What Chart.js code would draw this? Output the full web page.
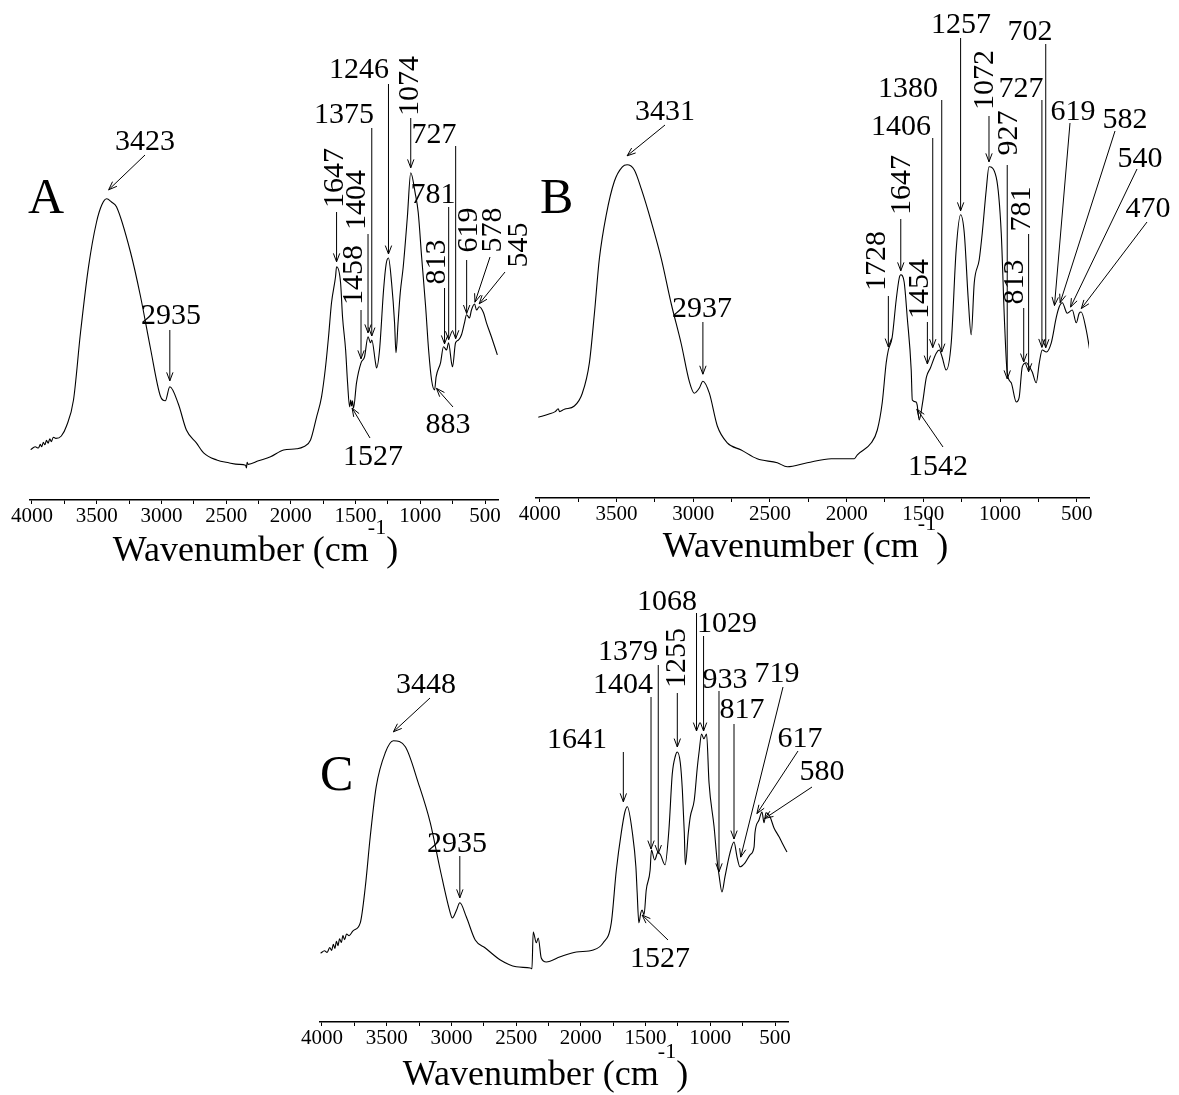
<!DOCTYPE html>
<html>
<head>
<meta charset="utf-8">
<script src="https://cdn.jsdelivr.net/npm/chart.js@4.4.1/dist/chart.umd.min.js"></script>
<style>
  html, body { margin: 0; padding: 0; background: #fff; }
  #wrap { position: relative; width: 1179px; height: 1095px; }
  #wrap canvas { position: absolute; left: 0; top: 0; }
</style>
</head>
<body>
<div id="wrap">
  <canvas id="chartA" width="1179" height="1095"></canvas>
  <canvas id="chartB" width="1179" height="1095"></canvas>
  <canvas id="chartC" width="1179" height="1095"></canvas>
</div>
<script>
/* ---- data ---- */
const xTickLabels = [4000, 3500, 3000, 2500, 2000, 1500, 1000, 500];
const panelLetters = ["A", "B", "C"];

const wavenumbersA = [4010, 3975, 3950, 3935, 3925, 3912, 3900, 3888, 3875, 3862,
  3850, 3835, 3815, 3773, 3733, 3679, 3625, 3563, 3501, 3460,
  3423, 3385, 3347, 3239, 3162, 3085, 3008, 2970, 2935, 2869,
  2807, 2730, 2674, 2573, 2480, 2400, 2350, 2343, 2338, 2330,
  2250, 2157, 2056, 1956, 1902, 1848, 1801, 1763, 1732, 1709,
  1686, 1655, 1647, 1616, 1601, 1577, 1562, 1546, 1538, 1531,
  1524, 1516, 1493, 1458, 1431, 1404, 1384, 1375, 1346, 1338,
  1315, 1284, 1264, 1246, 1222, 1199, 1188, 1172, 1155, 1132,
  1100, 1074, 1040, 1016, 990, 959, 936, 913, 890, 878,
  844, 821, 797, 782, 759, 751, 728, 705, 682, 659,
  643, 620, 605, 581, 566, 545, 512, 489, 451, 405];
const intensityA = [12.6, 13.3, 13.0, 13.9, 13.3, 14.4, 13.8, 14.9, 14.2, 15.3,
  14.6, 15.7, 15.4, 16.0, 18.5, 25.0, 41.8, 58.3, 69.5, 73.8,
  75.3, 74.5, 73.3, 62.0, 51.0, 38.0, 26.0, 24.8, 28.3, 24.0,
  17.5, 14.3, 11.8, 10.0, 9.3, 8.9, 8.7, 8.0, 9.4, 8.9,
  9.8, 10.8, 12.5, 12.8, 13.3, 15.0, 20.8, 25.8, 33.3, 40.8,
  49.3, 55.8, 58.3, 54.3, 45.8, 37.5, 29.3, 23.3, 25.0, 23.5,
  24.8, 23.0, 29.3, 34.3, 35.8, 40.8, 39.3, 40.0, 34.3, 33.0,
  37.5, 52.5, 59.0, 60.5, 54.3, 44.3, 36.8, 44.3, 51.8, 58.3,
  70.8, 81.8, 76.8, 71.8, 60.8, 48.3, 37.5, 30.0, 27.5, 30.8,
  34.3, 38.3, 37.5, 39.3, 34.3, 33.3, 39.3, 40.0, 41.3, 44.3,
  46.3, 45.5, 47.5, 49.0, 47.5, 48.3, 46.8, 44.3, 40.8, 36.3];
const peaksA = [3423, 2935, 1647, 1527, 1458, 1404, 1375, 1246, 1074, 883, 813, 781, 727, 619, 578, 545];

const wavenumbersB = [4010, 3940, 3900, 3880, 3872, 3840, 3775, 3723, 3677, 3645,
  3612, 3567, 3514, 3462, 3431, 3384, 3338, 3273, 3208, 3143,
  3078, 3026, 2993, 2960, 2937, 2895, 2843, 2778, 2687, 2583,
  2452, 2387, 2257, 2100, 1950, 1930, 1839, 1800, 1768, 1742,
  1728, 1703, 1677, 1657, 1647, 1625, 1605, 1579, 1572, 1546,
  1540, 1527, 1505, 1480, 1454, 1416, 1396, 1377, 1351, 1318,
  1286, 1257, 1233, 1207, 1188, 1168, 1136, 1116, 1090, 1072,
  1025, 992, 972, 953, 927, 894, 875, 855, 829, 809,
  790, 764, 744, 725, 698, 666, 633, 614, 594, 562,
  529, 503, 484, 471, 438, 412];
const intensityB = [20.2, 21.0, 21.6, 22.3, 21.6, 22.2, 23.0, 26.2, 33.8, 45.8,
  59.8, 70.8, 79.2, 82.8, 83.3, 82.0, 77.2, 69.0, 59.8, 48.5,
  38.5, 29.2, 26.2, 27.5, 29.2, 26.2, 18.0, 13.8, 12.0, 9.8,
  8.8, 7.8, 8.8, 9.8, 9.8, 10.8, 13.8, 17.0, 23.8, 33.8,
  37.0, 40.2, 49.5, 55.0, 55.8, 54.0, 45.2, 32.0, 24.5, 24.0,
  23.2, 19.5, 23.8, 30.2, 32.5, 36.2, 37.0, 35.2, 32.0, 38.8,
  62.0, 70.8, 66.2, 49.5, 40.8, 53.8, 59.5, 66.2, 77.0, 82.8,
  80.2, 66.2, 45.2, 31.2, 28.8, 24.0, 25.2, 32.8, 33.8, 32.8,
  31.5, 28.8, 33.8, 37.0, 36.5, 38.8, 45.2, 47.8, 48.8, 46.2,
  47.0, 43.8, 46.2, 46.5, 42.0, 36.2];
const peaksB = [3431, 2937, 1728, 1647, 1542, 1454, 1406, 1380, 1257, 1072, 927, 813, 781, 727, 702, 619, 582, 540, 470];

const wavenumbersC = [4010, 3980, 3960, 3940, 3925, 3912, 3900, 3888, 3876, 3864,
  3850, 3838, 3825, 3810, 3790, 3760, 3704, 3665, 3627, 3581,
  3511, 3448, 3356, 3256, 3163, 3086, 3009, 2993, 2960, 2935,
  2885, 2816, 2738, 2622, 2499, 2391, 2378, 2368, 2344, 2329,
  2306, 2267, 2159, 2035, 1904, 1827, 1765, 1726, 1688, 1660,
  1641, 1602, 1575, 1565, 1552, 1537, 1527, 1512, 1495, 1465,
  1455, 1430, 1404, 1385, 1350, 1320, 1294, 1270, 1255, 1232,
  1216, 1201, 1193, 1170, 1155, 1124, 1100, 1085, 1068, 1050,
  1029, 1010, 971, 948, 933, 910, 887, 848, 817, 794,
  771, 732, 693, 662, 655, 624, 601, 585, 570, 539,
  508, 469, 446, 408];
const intensityC = [17.2, 17.8, 17.4, 18.6, 17.9, 19.4, 18.4, 20.2, 19.1, 20.8,
  19.9, 21.6, 20.6, 22.0, 21.6, 22.8, 24.8, 33.8, 46.3, 58.8,
  67.3, 70.3, 68.8, 59.8, 49.8, 38.0, 27.3, 26.0, 28.0, 29.8,
  26.3, 20.5, 18.5, 15.5, 13.8, 13.5, 13.3, 22.5, 19.8, 21.0,
  16.0, 15.0, 16.3, 17.5, 18.0, 19.8, 24.8, 38.0, 47.3, 52.5,
  53.8, 47.3, 38.8, 32.3, 24.8, 27.3, 28.0, 26.8, 33.0, 38.0,
  43.0, 40.5, 42.5, 41.8, 39.3, 48.0, 62.0, 66.5, 67.5, 64.8,
  58.0, 47.3, 39.3, 47.3, 51.3, 55.5, 63.8, 68.0, 72.0, 70.8,
  72.0, 59.8, 48.8, 40.5, 36.8, 32.5, 36.3, 42.3, 45.0, 41.3,
  38.8, 39.8, 41.8, 43.8, 47.3, 50.5, 52.5, 49.8, 52.3, 51.3,
  48.5, 46.3, 44.8, 42.5];
const peaksC = [3448, 2935, 1641, 1527, 1404, 1379, 1255, 1068, 1029, 933, 817, 719, 617, 580];

/* ---- label placement, page pixels ----
   tx/ty text anchor (rot: vertical text, tx = baseline), sx/sy arrow start
   (no sx = vertical arrow), dx/dy nudge of the arrow tip from the curve */
const labelPosA = {
  3423: { tx: 145, ty: 150, sx: 145, sy: 155, dx: 2, dy: -9 },
  2935: { tx: 171, ty: 324, sy: 330, dy: -6 },
  1647: { rot: true, tx: 343, ty: 178, sy: 212, dy: -5 },
  1527: { tx: 373, ty: 465, sx: 370, sy: 438, dy: 5 },
  1458: { rot: true, tx: 362, ty: 275, sy: 310, dy: -4 },
  1404: { rot: true, tx: 365, ty: 200, sy: 234, dy: -4 },
  1375: { tx: 344, ty: 123, sy: 128, dy: -4 },
  1246: { tx: 359, ty: 78, sy: 84, dy: -4 },
  1074: { rot: true, tx: 418, ty: 86, sy: 118, dy: -5 },
  883: { tx: 448, ty: 433, sx: 453, sy: 407, dx: 1, dy: 6 },
  813: { rot: true, tx: 445, ty: 262, sy: 288, dy: -4 },
  781: { tx: 433, ty: 203, sy: 207, dy: -4 },
  727: { tx: 434, ty: 143, sy: 146, dy: -4 },
  619: { rot: true, tx: 477, ty: 230, sy: 260, dx: -3, dy: -4 },
  578: { rot: true, tx: 501, ty: 230, sx: 490, sy: 257, dy: -3 },
  545: { rot: true, tx: 527, ty: 245, sx: 505, sy: 272, dy: -3 }
};
const labelPosB = {
  3431: { tx: 665, ty: 120, sx: 665, sy: 125, dy: -9 },
  2937: { tx: 702, ty: 317, sy: 322, dy: -7 },
  1728: { rot: true, tx: 885, ty: 261, sy: 296, dy: -3 },
  1647: { rot: true, tx: 910, ty: 185, sy: 219, dy: -4 },
  1542: { tx: 938, ty: 475, sx: 943, sy: 447, dy: 5 },
  1454: { rot: true, tx: 928, ty: 289, sy: 322, dx: -3, dy: -4 },
  1406: { tx: 901, ty: 135, sy: 138, dx: -5, dy: -4 },
  1380: { tx: 908, ty: 97, sy: 100, dy: -4 },
  1257: { tx: 961, ty: 33, sy: 38, dy: -4 },
  1072: { rot: true, tx: 993, ty: 80, sy: 116, dy: -5 },
  927: { rot: true, tx: 1017, ty: 133, sy: 165, dx: -4, dy: -4 },
  813: { rot: true, tx: 1023, ty: 282, sy: 308, dx: -5, dy: -4 },
  781: { rot: true, tx: 1030, ty: 209, sy: 234, dx: -5, dy: -4 },
  727: { tx: 1021, ty: 97, sy: 100, dy: -4 },
  702: { tx: 1030, ty: 40, sy: 44, dy: -4 },
  619: { tx: 1073, ty: 120, sx: 1070, sy: 123, dx: -4, dy: -4 },
  582: { tx: 1125, ty: 128, sx: 1115, sy: 131, dx: -4, dy: -4 },
  540: { tx: 1140, ty: 167, sx: 1137, sy: 169, dy: -4 },
  470: { tx: 1148, ty: 217, sx: 1147, sy: 222, dy: -4 }
};
const labelPosC = {
  3448: { tx: 426, ty: 693, sx: 430, sy: 698, dy: -9 },
  2935: { tx: 457, ty: 852, sy: 856, dy: -5 },
  1641: { tx: 577, ty: 748, sy: 752, dx: -4, dy: -5 },
  1527: { tx: 660, ty: 967, sx: 668, sy: 940, dy: 5 },
  1404: { tx: 623, ty: 693, sy: 697, dx: -7, dy: -3 },
  1379: { tx: 628, ty: 660, sy: 665, dx: -3, dy: -3 },
  1255: { rot: true, tx: 685, ty: 658, sy: 693, dy: -5 },
  1068: { tx: 667, ty: 610, sy: 613, dx: -5, dy: -3 },
  1029: { tx: 727, ty: 632, sy: 636, dx: -3, dy: -3 },
  933: { tx: 725, ty: 688, sy: 691, dy: -3 },
  817: { tx: 742, ty: 718, sy: 724, dy: -3 },
  719: { tx: 777, ty: 682, sx: 783, sy: 687, dx: -6, dy: -3 },
  617: { tx: 800, ty: 747, sx: 798, sy: 751, dx: -3, dy: -4 },
  580: { tx: 822, ty: 780, sx: 812, sy: 787, dy: -1 }
};

const FONT = '"Liberation Serif", "Times New Roman", serif';
const PAGE_W = 1179, PAGE_H = 1095, AXIS_H = 30;

const panels = [
  { id: "chartA", letter: panelLetters[0], wn: wavenumbersA, val: intensityA, peaks: peaksA, pos: labelPosA,
    range: [400, 4015], left: 30, right: 498, bottom: 500,
    letterAt: [28, 213], titleAt: [256, 561] },
  { id: "chartB", letter: panelLetters[1], wn: wavenumbersB, val: intensityB, peaks: peaksB, pos: labelPosB,
    range: [420, 4025], left: 536, right: 1089, bottom: 498,
    letterAt: [540, 213], titleAt: [806, 557] },
  { id: "chartC", letter: panelLetters[2], wn: wavenumbersC, val: intensityC, peaks: peaksC, pos: labelPosC,
    range: [400, 4015], left: 320, right: 788, bottom: 1022,
    letterAt: [320, 790], titleAt: [546, 1085] }
];

function valueAt(wn, xs, ys) {
  for (let i = 0; i < xs.length - 1; i++) {
    if ((xs[i] - wn) * (xs[i + 1] - wn) <= 0) {
      const t = (wn - xs[i]) / (xs[i + 1] - xs[i]);
      return ys[i] + t * (ys[i + 1] - ys[i]);
    }
  }
  return ys[ys.length - 1];
}

function arrow(ctx, x0, y0, x1, y1) {
  const a = Math.atan2(y1 - y0, x1 - x0), len = 9, h = 0.36;
  ctx.beginPath();
  ctx.moveTo(x0, y0);
  ctx.lineTo(x1, y1);
  ctx.moveTo(x1 - len * Math.cos(a - h), y1 - len * Math.sin(a - h));
  ctx.lineTo(x1, y1);
  ctx.lineTo(x1 - len * Math.cos(a + h), y1 - len * Math.sin(a + h));
  ctx.stroke();
}

function overlay(p) {
  return {
    id: "overlay" + p.letter,
    afterDraw(chart) {
      const ctx = chart.ctx, xs = chart.scales.x, ys = chart.scales.y;
      ctx.save();
      ctx.fillStyle = "#000";
      ctx.strokeStyle = "#000";
      ctx.lineWidth = 1;
      ctx.textBaseline = "alphabetic";

      // panel letter
      ctx.font = "50px " + FONT;
      ctx.textAlign = "left";
      ctx.fillText(p.letter, p.letterAt[0], p.letterAt[1]);

      // axis title with superscript
      const t1 = "Wavenumber (cm", t2 = "-1", t3 = ")";
      ctx.font = "36px " + FONT;
      const w1 = ctx.measureText(t1).width, w3 = ctx.measureText(t3).width;
      ctx.font = "22px " + FONT;
      const w2 = ctx.measureText(t2).width;
      let x = p.titleAt[0] - (w1 + w2 + w3) / 2;
      const y = p.titleAt[1];
      ctx.font = "36px " + FONT;
      ctx.fillText(t1, x, y);
      x += w1;
      ctx.font = "22px " + FONT;
      ctx.fillText(t2, x - 1, y - 27);
      x += w2 - 1;
      ctx.font = "36px " + FONT;
      ctx.fillText(t3, x, y);

      // peak labels + arrows
      ctx.font = "30px " + FONT;
      ctx.textAlign = "center";
      p.peaks.forEach(wn => {
        const q = p.pos[wn];
        const px = xs.getPixelForValue(wn) + (q.dx || 0);
        const py = ys.getPixelForValue(valueAt(wn, p.wn, p.val)) + q.dy;
        if (q.rot) {
          ctx.save();
          ctx.translate(q.tx, q.ty);
          ctx.rotate(-Math.PI / 2);
          ctx.fillText(String(wn), 0, 0);
          ctx.restore();
        } else {
          ctx.fillText(String(wn), q.tx, q.ty);
        }
        arrow(ctx, q.sx !== undefined ? q.sx : px, q.sy, px, py);
      });
      ctx.restore();
    }
  };
}

function makeChart(p) {
  new Chart(document.getElementById(p.id), {
    type: "line",
    data: {
      datasets: [{
        data: p.wn.map((w, i) => ({ x: w, y: p.val[i] })),
        borderColor: "#000",
        borderWidth: 1.1,
        pointRadius: 0,
        cubicInterpolationMode: "monotone",
        fill: false
      }]
    },
    options: {
      responsive: false,
      animation: false,
      events: [],
      layout: {
        padding: {
          left: p.left,
          right: PAGE_W - p.right,
          top: p.bottom - 400,
          bottom: PAGE_H - p.bottom - AXIS_H
        }
      },
      plugins: { legend: { display: false }, tooltip: { enabled: false } },
      scales: {
        x: {
          type: "linear",
          reverse: true,
          min: p.range[0],
          max: p.range[1],
          afterFit: s => { s.height = AXIS_H; },
          ticks: {
            stepSize: 250,
            maxTicksLimit: 40,
            autoSkip: false,
            maxRotation: 0,
            includeBounds: false,
            padding: 0,
            color: "#000",
            font: { family: FONT, size: 21 },
            callback: v => xTickLabels.includes(v) ? String(v) : ""
          },
          grid: { drawOnChartArea: false, color: "#000", tickLength: 4, lineWidth: 1 },
          border: { display: true, color: "#000", width: 1.5 }
        },
        y: { display: false, min: 0, max: 100 }
      }
    },
    plugins: [overlay(p)]
  });
}

panels.forEach(makeChart);
</script>
</body>
</html>
